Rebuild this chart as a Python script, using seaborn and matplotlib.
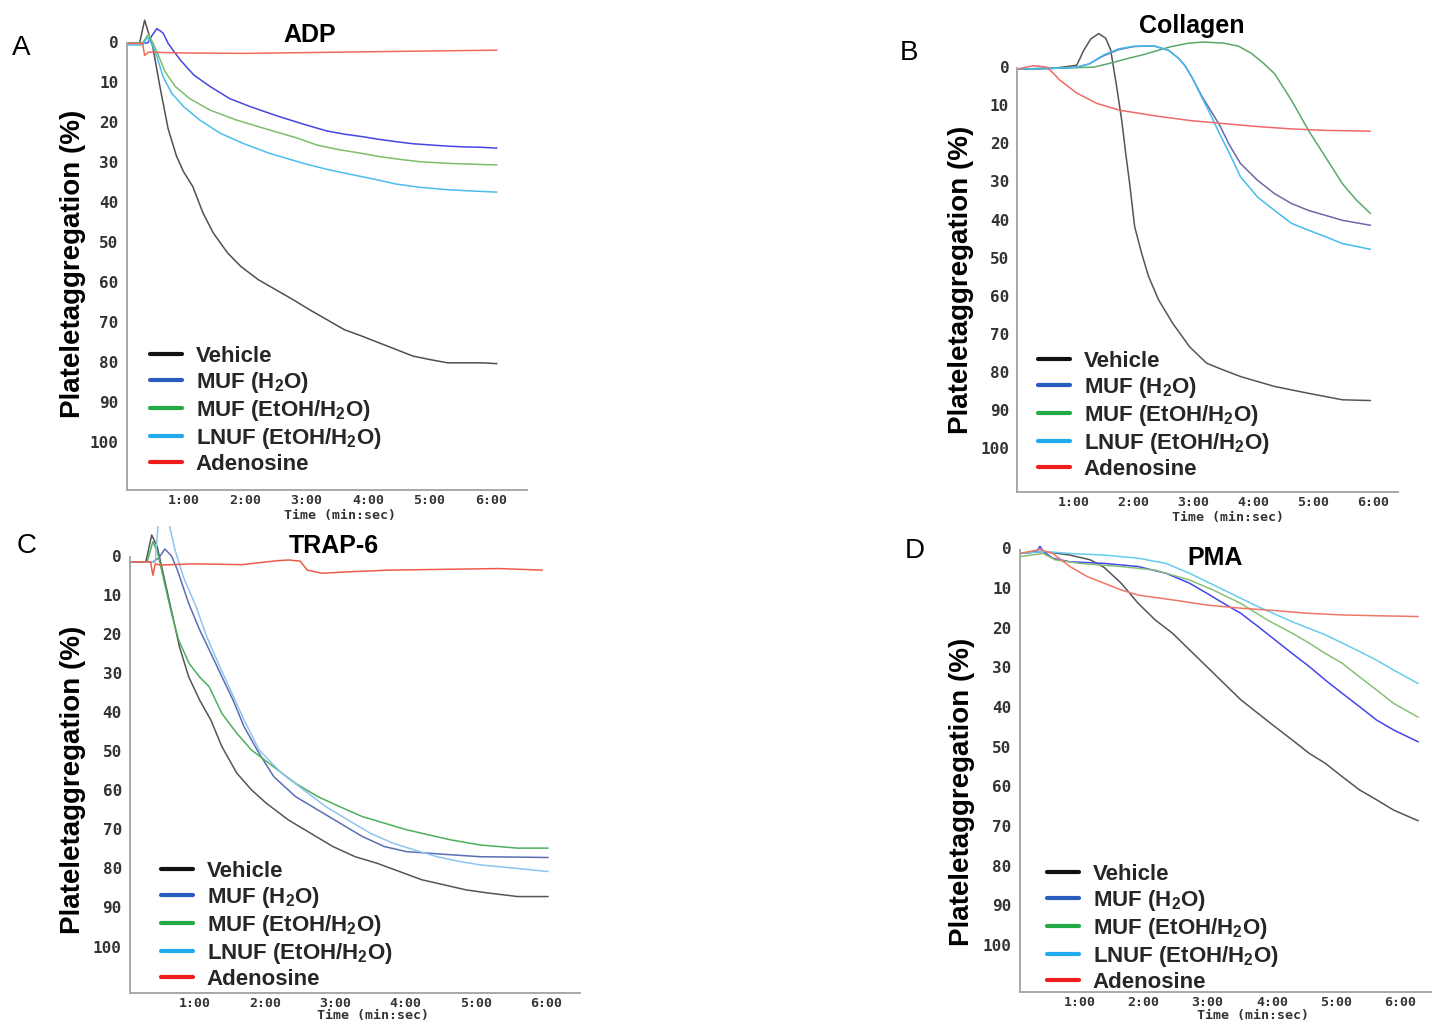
import matplotlib
matplotlib.use("Agg")
import matplotlib.pyplot as plt
from matplotlib.lines import Line2D
import seaborn as sns
import pandas as pd

# ---------------- DATA (time in seconds, aggregation in %) ----------------
SERIES = ["Vehicle", "MUF (H$_2$O)", "MUF (EtOH/H$_2$O)", "LNUF (EtOH/H$_2$O)", "Adenosine"]
PANEL_TITLES = ["ADP", "Collagen", "TRAP-6", "PMA"]
PANEL_LETTERS = ["A", "B", "C", "D"]
X_TICKS = [60, 120, 180, 240, 300, 360]
X_TICK_LABELS = ["1:00", "2:00", "3:00", "4:00", "5:00", "6:00"]
Y_TICKS = [0, 10, 20, 30, 40, 50, 60, 70, 80, 90, 100]

# ADP
adp_veh_t = [4.5, 17, 22, 30, 37, 45, 53, 60, 69, 79, 89, 103, 116, 133, 150, 167, 183, 200, 217, 234, 251, 268, 284, 301, 318, 335, 352, 366]
adp_veh_v = [0.4, 0.4, -5.4, 1.3, 11.3, 21.8, 28.5, 32.5, 36.2, 42.8, 47.8, 52.8, 56.2, 59.5, 62, 64.5, 67, 69.5, 72, 73.6, 75.3, 77, 78.6, 79.5, 80.3, 80.3, 80.3, 80.5]
adp_muf_t = [4.5, 25, 29, 34, 40, 45, 50, 57, 70, 86, 105, 125, 151, 177, 200, 217, 234, 251, 268, 284, 301, 318, 335, 352, 366]
adp_muf_v = [0.3, 0.3, -1.5, -3.3, -2.2, 0.4, 2.2, 4.6, 8.3, 11.2, 14.2, 16.2, 18.5, 20.6, 22.3, 23.1, 23.7, 24.4, 25, 25.5, 25.8, 26.1, 26.3, 26.4, 26.6]
adp_mufe_t = [4.5, 20, 25.6, 30, 34, 42, 52, 66, 86, 112, 138, 170, 190, 210, 234, 251, 271, 291, 318, 340, 366]
adp_mufe_v = [0.3, 0.3, -1.9, 0.2, 2.5, 7.5, 11.2, 14.2, 17.1, 19.6, 21.6, 24, 25.8, 26.9, 27.9, 28.7, 29.4, 30, 30.4, 30.6, 30.8]
adp_lnuf_t = [4.5, 20, 25, 30, 34, 40, 48.5, 60, 76, 96, 118, 144, 177, 200, 222, 245, 268, 291, 318, 340, 366]
adp_lnuf_v = [0.8, 0.8, -1.2, 1.0, 3.7, 8.7, 12.9, 16.2, 19.6, 22.9, 25.4, 27.9, 30.4, 31.9, 33.1, 34.3, 35.6, 36.4, 37, 37.3, 37.6]
adp_ado_t = [4.5, 20, 22, 26, 60, 120, 180, 240, 300, 366]
adp_ado_v = [0.4, 0.4, 3.4, 2.6, 2.8, 2.9, 2.7, 2.5, 2.3, 2.1]

# Collagen
col_veh_t = [3.7, 40, 63, 70, 77, 85, 92, 97, 103, 108, 112, 116, 121, 128, 135, 145, 159, 176, 193, 210, 227, 261, 295, 329, 357]
col_veh_v = [0.5, 0.3, -0.5, -4.4, -7.4, -8.8, -7.6, -4.5, 5.2, 13.9, 22.6, 30.6, 41.9, 48.9, 55, 61.1, 67.2, 73.4, 77.7, 79.5, 81.2, 83.8, 85.6, 87.3, 87.5]
col_muf_t = [3.7, 40, 63, 75, 90, 105, 120, 140, 155, 165, 171, 178, 188, 195, 206, 216, 227, 244, 261, 278, 295, 312, 329, 357]
col_muf_v = [0.5, 0.3, 0.0, -0.8, -3.0, -4.6, -5.4, -5.6, -4.4, -2.3, -0.5, 2.5, 7.5, 10.5, 15.2, 20.5, 25.3, 29.7, 33.2, 35.8, 37.6, 38.9, 40.2, 41.5]
col_mufe_t = [3.7, 40, 80, 96, 110, 130, 156, 175, 190, 210, 225, 238, 250, 261, 278, 295, 312, 329, 343, 357]
col_mufe_v = [0.5, 0.3, 0.0, -1.0, -2.0, -3.3, -5.3, -6.3, -6.6, -6.3, -5.5, -3.6, -1.0, 1.7, 8.7, 16.6, 23.6, 30.6, 34.9, 38.4]
col_lnuf_t = [3.7, 40, 63, 75, 90, 105, 120, 140, 155, 165, 171, 178, 188, 195, 206, 216, 227, 244, 261, 278, 295, 312, 329, 357]
col_lnuf_v = [0.5, 0.3, 0.0, -0.8, -3.2, -4.8, -5.5, -5.6, -4.4, -2.3, -0.5, 2.5, 7.8, 11.4, 17.5, 22.7, 28.8, 34.1, 37.6, 41, 42.8, 44.5, 46.3, 47.8]
col_ado_t = [3.7, 20, 33, 40, 46, 55, 63, 83, 106, 142, 176, 210, 244, 278, 312, 357]
col_ado_v = [0.5, -0.4, 0.0, 1.7, 3.4, 5.2, 6.8, 9.5, 11.3, 12.8, 14.0, 14.8, 15.6, 16.2, 16.6, 16.8]

# TRAP-6
trap_veh_t = [4.6, 18, 23, 27.7, 34, 40.4, 46.7, 54.6, 64, 73.6, 83, 95.8, 108.4, 121, 140, 159, 178, 197, 216, 235, 254, 273, 292, 311, 336, 362]
trap_veh_v = [1.5, 1.5, -5.4, -2.4, 6.1, 14.7, 23.2, 30.9, 36.9, 42, 48.8, 55.6, 59.9, 63.3, 67.6, 71, 74.4, 77, 78.7, 80.8, 82.9, 84.2, 85.5, 86.3, 87.2, 87.2]
trap_muf_t = [4.6, 24, 29, 34.3, 40, 45, 54.6, 64, 73.6, 83, 92.6, 102, 114.8, 127.4, 146, 165, 184, 203, 222, 241, 260, 279, 304, 336, 362]
trap_muf_v = [1.5, 1.5, 0.5, -1.8, 0.0, 3.6, 12.1, 18.9, 24.9, 30.9, 36.9, 43.7, 50.5, 56.5, 61.6, 65, 68.4, 71.8, 74.4, 75.7, 76.1, 76.5, 77.0, 77.1, 77.2]
trap_mufe_t = [4.6, 19, 24, 28, 34, 40, 46, 55, 64, 72, 83, 95.8, 108.4, 127, 146, 165, 184, 203, 222, 241, 260, 279, 304, 336, 362]
trap_mufe_v = [1.5, 1.5, -3.7, -1.0, 7.0, 14.7, 21.5, 27.5, 31, 33.4, 40.3, 45.4, 49.7, 53.9, 58.2, 61.6, 64.2, 66.7, 68.4, 70.1, 71.4, 72.7, 74.0, 74.8, 74.8]
trap_lnuf_t = [4.6, 26, 29, 38, 43, 50, 61, 70, 80, 89, 102, 115, 134, 153, 172, 191, 210, 229, 248, 267, 286, 304, 336, 362]
trap_lnuf_v = [1.5, 1.5, -10, -8, -1.5, 5.3, 13, 20.6, 27.5, 33.4, 42, 49.7, 55.6, 59.9, 64.2, 67.6, 71, 73.5, 75.3, 77, 78.2, 79.1, 80, 80.8]
trap_ado_t = [4.6, 22, 24, 26, 30, 60, 100, 130, 140, 150, 156, 168.6, 194, 225.5, 273, 320, 357]
trap_ado_v = [1.5, 1.5, 4.9, 2.0, 2.3, 2.0, 2.2, 1.2, 1.0, 1.3, 3.6, 4.4, 4.0, 3.6, 3.4, 3.2, 3.6]

# PMA
pma_veh_t = [4.2, 26, 51, 70, 83, 99, 115, 131, 147, 163, 179, 195, 211, 227, 243, 259, 275, 290, 306, 322, 338, 354, 377]
pma_veh_v = [1.3, 0.8, 1.7, 2.9, 4.8, 8.8, 13.9, 18.1, 21.4, 25.6, 29.8, 34, 38.2, 41.6, 45, 48.3, 51.7, 54.2, 57.6, 60.9, 63.4, 66, 68.7]
pma_muf_t = [4.2, 20, 23, 26, 35, 51, 83, 115, 141, 163, 179, 195, 211, 227, 243, 259, 275, 290, 306, 322, 338, 354, 377]
pma_muf_v = [1.3, 0.8, -0.5, 0.8, 2.5, 3.4, 3.8, 4.6, 6.3, 8.8, 11.3, 13.9, 16.4, 19.7, 23.1, 26.5, 29.8, 33.2, 36.6, 39.9, 43.3, 45.8, 48.8]
pma_mufe_t = [4.2, 26, 37, 60, 99, 131, 163, 185, 211, 236, 259, 275, 290, 306, 322, 338, 354, 377]
pma_mufe_v = [2.1, 1.3, 2.9, 3.8, 4.6, 5.5, 8.0, 10.5, 13.9, 18.1, 21.4, 23.9, 26.5, 29.0, 32.4, 35.7, 39.1, 42.6]
pma_lnuf_t = [4.2, 26, 51, 83, 115, 141, 163, 195, 227, 259, 290, 306, 322, 338, 354, 377]
pma_lnuf_v = [1.3, 0.8, 1.3, 1.7, 2.5, 3.8, 6.3, 10.5, 14.7, 18.5, 21.8, 23.9, 26.0, 28.2, 30.7, 34.1]
pma_ado_t = [4.2, 23, 35, 51, 67, 83, 99, 115, 147, 179, 211, 243, 275, 306, 338, 377]
pma_ado_v = [1.3, 0.3, 1.3, 4.6, 7.1, 8.8, 10.5, 11.8, 13.0, 14.3, 15.1, 15.7, 16.4, 16.8, 17.0, 17.2]

PANEL_DATA = [
    [(adp_veh_t, adp_veh_v), (adp_muf_t, adp_muf_v), (adp_mufe_t, adp_mufe_v), (adp_lnuf_t, adp_lnuf_v), (adp_ado_t, adp_ado_v)],
    [(col_veh_t, col_veh_v), (col_muf_t, col_muf_v), (col_mufe_t, col_mufe_v), (col_lnuf_t, col_lnuf_v), (col_ado_t, col_ado_v)],
    [(trap_veh_t, trap_veh_v), (trap_muf_t, trap_muf_v), (trap_mufe_t, trap_mufe_v), (trap_lnuf_t, trap_lnuf_v), (trap_ado_t, trap_ado_v)],
    [(pma_veh_t, pma_veh_v), (pma_muf_t, pma_muf_v), (pma_mufe_t, pma_mufe_v), (pma_lnuf_t, pma_lnuf_v), (pma_ado_t, pma_ado_v)],
]

# ---------------- STYLE / LAYOUT ----------------
W, H = 1434, 1024
sns.set_style("white")
plt.rcParams["font.family"] = ["Liberation Sans", "DejaVu Sans"]
plt.rcParams["mathtext.fontset"] = "custom"
plt.rcParams["mathtext.rm"] = "Liberation Sans:bold"
plt.rcParams["mathtext.default"] = "rm"

TRACE_COLORS = [
    ["#505050", "#4646e0", "#7cbf6a", "#4cbdee", "#ee6a5a"],
    ["#555555", "#6a6aa8", "#5aa86a", "#44bbee", "#ee6a6a"],
    ["#555555", "#5a6db2", "#4cb05c", "#8ec4ee", "#ee5a4a"],
    ["#555555", "#4444ee", "#88c077", "#66ccee", "#ee7766"],
]
LEGEND_COLORS = ["#111111", "#2a5cbf", "#22aa44", "#22aaee", "#ee1c1c"]

# axes box in pixels: left, right, top, bottom ; x-limits and y-limits (inverted)
AX_BOX = [(126.7, 527, 15, 490), (1017.5, 1398, 18, 492), (130.2, 580, 526, 993), (1019.9, 1431, 538, 991.7)]
XLIMS = [(4.5, 395.4), (3.7, 384.6), (4.6, 389.3), (4.2, 389.0)]
YLIMS = [(112.1, -6.7), (111.5, -12.9), (111.9, -7.7), (111.8, -2.6)]
TITLE_POS = [(310, 42), (1192, 33), (334, 553), (1215, 565)]
LETTER_POS = [(12, 55), (900, 60), (17, 553), (905, 558)]
YLABEL_POS = [(73, 264), (961, 280), (73, 780), (962, 792)]
XLABEL_POS = [(340, 515), (1228, 518), (373, 1016), (1253, 1016)]
LEGEND_POS = [(150, 346), (1038, 351), (161, 861), (1047, 864)]

fig = plt.figure(figsize=(W / 100, H / 100), dpi=100)
fig.patch.set_facecolor("white")

def fx(x):
    return x / W

def fy(y):
    return 1 - y / H

for i in range(4):
    l, r, t, b = AX_BOX[i]
    ax = fig.add_axes([fx(l), fy(b), (r - l) / W, (b - t) / H])
    ax.set_facecolor("none")
    for k, (tt, vv) in enumerate(PANEL_DATA[i]):
        df = pd.DataFrame({"t": tt, "v": vv})
        sns.lineplot(data=df, x="t", y="v", ax=ax, color=TRACE_COLORS[i][k],
                     linewidth=1.1, estimator=None, sort=False, legend=False)
    ax.set_xlim(*XLIMS[i])
    ax.set_ylim(*YLIMS[i])
    ax.set_xlabel("")
    ax.set_ylabel("")
    ax.set_xticks(X_TICKS)
    ax.set_xticklabels(X_TICK_LABELS)
    ax.set_yticks(Y_TICKS)
    ax.set_yticklabels([str(v) for v in Y_TICKS])
    ax.tick_params(axis="both", length=0)
    ax.tick_params(axis="x", pad=3)
    ax.tick_params(axis="y", pad=6)
    for lab in ax.get_xticklabels():
        lab.set_fontfamily("DejaVu Sans Mono")
        lab.set_fontweight("bold")
        lab.set_fontsize(9.5)
        lab.set_color("#333333")
    for lab in ax.get_yticklabels():
        lab.set_fontfamily("DejaVu Sans Mono")
        lab.set_fontweight("bold")
        lab.set_fontsize(11.5)
        lab.set_color("#333333")
    for s in ["top", "right"]:
        ax.spines[s].set_visible(False)
    for s in ["left", "bottom"]:
        ax.spines[s].set_color("#a8a8a8")
        ax.spines[s].set_linewidth(1.4)
    ax.spines["left"].set_bounds(YLIMS[i][0], 0.3)

    handles = [Line2D([0], [0], color=c, lw=3) for c in LEGEND_COLORS]
    lx, ly = LEGEND_POS[i]
    fig.legend(handles, SERIES, loc="upper left", bbox_to_anchor=(fx(lx), fy(ly)),
               bbox_transform=fig.transFigure, frameon=False, borderpad=0,
               borderaxespad=0, handlelength=1.45, handletextpad=0.6,
               labelspacing=0.135, prop={"family": "Liberation Sans", "weight": "bold", "size": 16})

    tx, ty = TITLE_POS[i]
    fig.text(fx(tx), fy(ty), PANEL_TITLES[i], ha="center", va="baseline",
             fontsize=18, fontweight="bold", color="black")
    px, py = LETTER_POS[i]
    fig.text(fx(px), fy(py), PANEL_LETTERS[i], ha="left", va="baseline",
             fontsize=20, color="black")
    yx, yy = YLABEL_POS[i]
    fig.text(fx(yx), fy(yy), "Plateletaggregation (%)", rotation=90, ha="center",
             va="center", fontsize=20, fontweight="bold", color="black")
    xx, xy = XLABEL_POS[i]
    fig.text(fx(xx), fy(xy), "Time (min:sec)", ha="center", va="center",
             fontsize=9.5, fontweight="bold", family="DejaVu Sans Mono", color="#333333")

fig.savefig("out.png", dpi=100, facecolor="white")
